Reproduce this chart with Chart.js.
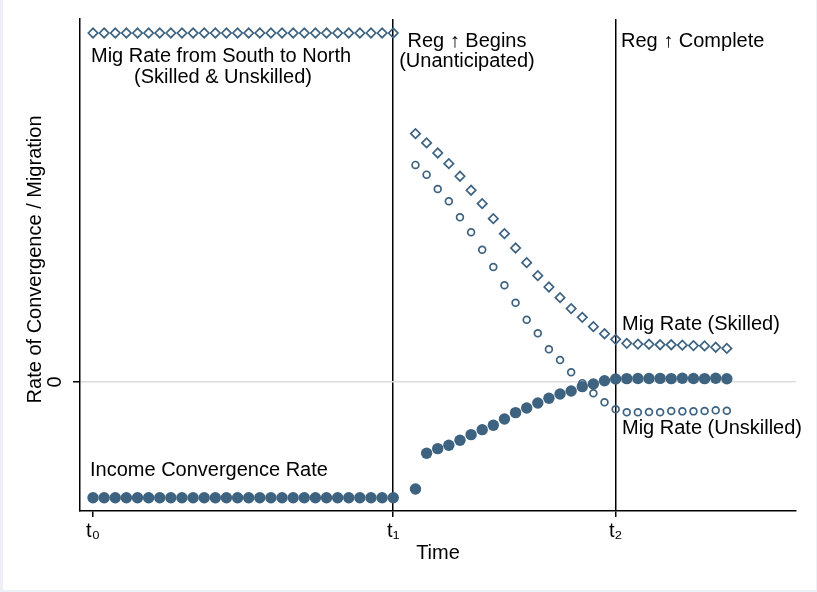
<!DOCTYPE html>
<html>
<head>
<meta charset="utf-8">
<script src="https://cdn.jsdelivr.net/npm/chart.js@4/dist/chart.umd.min.js"></script>
<style>
  html, body { margin: 0; padding: 0; background: #ffffff; }
  canvas { display: block; }
</style>
</head>
<body>
<canvas id="chart" width="817" height="592"></canvas>
<script>
// Time steps (model periods) along the horizontal axis
const timeSteps = [0, 1, 2, 3, 4, 5, 6, 7, 8, 9, 10, 11, 12, 13, 14, 15, 16, 17, 18, 19,
  20, 21, 22, 23, 24, 25, 26, 27, 28, 29, 30, 31, 32, 33, 34, 35, 36, 37, 38, 39,
  40, 41, 42, 43, 44, 45, 46, 47, 48, 49, 50, 51, 52, 53, 54, 55, 56, 57];

// Marked periods on the time axis
const tickSteps = [0, 27, 47];
const tickLabels = ['t\u2080', 't\u2081', 't\u2082'];
const yTickValues = [0];
const yTickLabels = ['0'];

// Income convergence rate (filled circles)
const incomeRate = [
  -1.00, -1.00, -1.00, -1.00, -1.00, -1.00, -1.00, -1.00, -1.00, -1.00,
  -1.00, -1.00, -1.00, -1.00, -1.00, -1.00, -1.00, -1.00, -1.00, -1.00,
  -1.00, -1.00, -1.00, -1.00, -1.00, -1.00, -1.00, -1.00, null, -0.925,
  -0.616, -0.576, -0.547, -0.504, -0.455, -0.412, -0.374, -0.320, -0.265, -0.225,
  -0.181, -0.141, -0.104, -0.078, -0.040, -0.017, 0.011, 0.026, 0.029, 0.030,
  0.030, 0.031, 0.029, 0.032, 0.030, 0.029, 0.032, 0.028];

// Migration rate of skilled workers (hollow diamonds); before t1 it is the common rate
const migSkilled = [
  3.016, 3.016, 3.016, 3.016, 3.016, 3.016, 3.016, 3.016, 3.016, 3.016,
  3.016, 3.016, 3.016, 3.016, 3.016, 3.016, 3.016, 3.016, 3.016, 3.016,
  3.016, 3.016, 3.016, 3.016, 3.016, 3.016, 3.016, 3.016, null, 2.146,
  2.066, 1.979, 1.887, 1.778, 1.657, 1.541, 1.411, 1.282, 1.158, 1.031,
  0.919, 0.821, 0.729, 0.634, 0.559, 0.478, 0.417, 0.369, 0.334, 0.328,
  0.326, 0.322, 0.322, 0.318, 0.315, 0.312, 0.300, 0.290];

// Migration rate of unskilled workers (hollow circles), after regulation begins
const migUnskilled = [
  null, null, null, null, null, null, null, null, null, null,
  null, null, null, null, null, null, null, null, null, null,
  null, null, null, null, null, null, null, null, null, 1.876,
  1.792, 1.668, 1.562, 1.423, 1.294, 1.143, 0.994, 0.836, 0.685, 0.538,
  0.421, 0.283, 0.190, 0.084, -0.010, -0.098, -0.175, -0.236, -0.262, -0.262,
  -0.259, -0.262, -0.251, -0.254, -0.254, -0.251, -0.245, -0.248];

const INK = '#3d6381';
const FONT_FAMILY = "'Liberation Sans', Arial, Helvetica, sans-serif";
const TEXT_FONT = { family: FONT_FAMILY, size: 20 };
const Y_TITLE = 'Rate of Convergence / Migration';

// Text notes placed in data coordinates
const notes = [
  { text: 'Mig Rate from South to North', x: -0.18, y: 2.766, align: 'left' },
  { text: '(Skilled & Unskilled)', x: 11.69, y: 2.584, align: 'center' },
  { text: 'Reg \u2191 Begins', x: 33.63, y: 2.898, align: 'center' },
  { text: '(Unanticipated)', x: 33.63, y: 2.725, align: 'center' },
  { text: 'Reg \u2191 Complete', x: 47.48, y: 2.898, align: 'left' },
  { text: 'Mig Rate (Skilled)', x: 47.57, y: 0.449, align: 'left' },
  { text: 'Mig Rate (Unskilled)', x: 47.57, y: -0.449, align: 'left' },
  { text: 'Income Convergence Rate', x: -0.27, y: -0.812, align: 'left' }
];

const framePlugin = {
  id: 'frame',
  beforeDraw(chart) {
    const { ctx, width, height } = chart;
    ctx.save();
    ctx.fillStyle = '#edf1f6';
    ctx.fillRect(0, 0, width, height);
    ctx.fillStyle = '#ffffff';
    ctx.fillRect(3, 0, width - 4, height - 2);
    ctx.restore();
  }
};

const notesPlugin = {
  id: 'notes',
  afterDraw(chart) {
    const { ctx, scales: { x, y } } = chart;
    ctx.save();
    ctx.fillStyle = '#000000';
    ctx.font = `${TEXT_FONT.size}px ${FONT_FAMILY}`;
    ctx.textBaseline = 'alphabetic';
    notes.forEach(n => {
      ctx.textAlign = n.align;
      ctx.fillText(n.text, x.getPixelForValue(n.x), y.getPixelForValue(n.y));
    });
    // vertical axis title, rotated to read upwards
    ctx.translate(35, y.getPixelForValue(1.059));
    ctx.rotate(-Math.PI / 2);
    ctx.textAlign = 'center';
    ctx.textBaseline = 'middle';
    ctx.fillText(Y_TITLE, 0, 0);
    ctx.restore();
  }
};

new Chart(document.getElementById('chart'), {
  type: 'line',
  data: {
    labels: timeSteps,
    datasets: [
      {
        label: 'Income Convergence Rate',
        data: incomeRate,
        showLine: false,
        pointStyle: 'circle',
        pointRadius: 5.7,
        pointBorderWidth: 0,
        backgroundColor: INK,
        borderColor: INK
      },
      {
        label: 'Mig Rate (Unskilled)',
        data: migUnskilled,
        showLine: false,
        pointStyle: 'circle',
        pointRadius: 3.4,
        pointBorderWidth: 1.7,
        backgroundColor: 'rgba(0,0,0,0)',
        borderColor: INK
      },
      {
        label: 'Mig Rate (Skilled)',
        data: migSkilled,
        showLine: false,
        pointStyle: 'rectRot',
        pointRadius: 4.7,
        pointBorderWidth: 1.7,
        backgroundColor: 'rgba(0,0,0,0)',
        borderColor: INK
      }
    ]
  },
  options: {
    responsive: false,
    animation: false,
    events: [],
    layout: { padding: { top: 19, right: 21, bottom: 0, left: 0 } },
    plugins: {
      legend: { display: false },
      tooltip: { enabled: false }
    },
    scales: {
      x: {
        type: 'linear',
        min: -1.17,
        max: 63.22,
        afterBuildTicks: s => { s.ticks = tickSteps.map(v => ({ value: v })); },
        afterFit: s => { s.height = 81; s.paddingLeft = 0; s.paddingRight = 0; },
        ticks: {
          callback: (v, i) => tickLabels[i],
          autoSkip: false,
          maxRotation: 0,
          color: '#000000',
          font: TEXT_FONT,
          padding: 2
        },
        grid: {
          color: c => (c.index === 0 ? 'rgba(0,0,0,0)' : '#000000'),
          lineWidth: 1.5,
          tickColor: '#000000',
          tickLength: 6
        },
        border: { color: '#000000', width: 1.5 },
        title: {
          display: true,
          text: 'Time',
          color: '#000000',
          font: TEXT_FONT,
          padding: { top: 0, bottom: 27 }
        }
      },
      y: {
        min: -1.115,
        max: 3.137,
        afterBuildTicks: s => { s.ticks = yTickValues.map(v => ({ value: v })); },
        afterFit: s => { s.width = 80; s.paddingTop = 0; s.paddingBottom = 0; },
        ticks: {
          callback: (v, i) => yTickLabels[i],
          minRotation: 90,
          maxRotation: 90,
          crossAlign: 'center',
          padding: 12,
          color: '#000000',
          font: TEXT_FONT
        },
        grid: {
          color: '#dddddd',
          lineWidth: 1.5,
          tickColor: '#000000',
          tickLength: 7
        },
        border: { color: '#000000', width: 1.5 }
      }
    }
  },
  plugins: [framePlugin, notesPlugin]
});
</script>
</body>
</html>
